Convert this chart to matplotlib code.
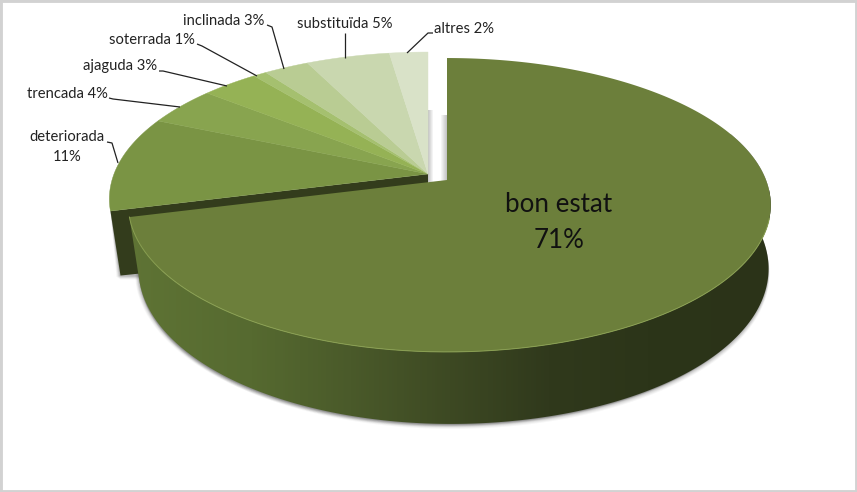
import numpy as np
import matplotlib
matplotlib.use("Agg")
import matplotlib.pyplot as plt
from matplotlib.colors import LinearSegmentedColormap
from matplotlib.patches import Polygon, Rectangle

labels = ["bon estat", "deteriorada", "trencada", "ajaguda", "soterrada", "inclinada", "substituïda", "altres"]
percent_labels = [71, 11, 4, 3, 1, 3, 5, 2]
values = [71, 10.5, 4.3, 3.4, 0.8, 2.7, 5.0, 2.3]
colors = ["#6C7F3B", "#7A9444", "#88A44F", "#95B255", "#A5C06F", "#B9CC93", "#C9D7AF", "#D9E2C8"]

plt.rcParams["font.family"] = ["Lato", "DejaVu Sans"]
W, H = 857, 492
fig = plt.figure(figsize=(W / 100, H / 100), dpi=100)
ax = fig.add_axes([0, 0, 1, 1])
ax.set_xlim(0, W)
ax.set_ylim(H, 0)
ax.axis("off")

A_R, A_L, B, K = 319.0, 314.0, 142.7, 0.17


def top(theta, r=1.0, c=(447.0, 180.0)):
    X, Y = r * np.sin(theta), r * np.cos(theta)
    w = 1 + K * Y
    return np.c_[c[0] + np.where(X > 0, A_R, A_L) * X / w, c[1] - B * Y / w]


def bottom(theta, r=1.0, c=(447.0, 180.0)):
    p = top(theta, r, c)
    Y = r * np.cos(theta)
    depth = 62 - 10 * Y
    return np.c_[c[0] + 4 + (p[:, 0] - c[0]) * 0.981, p[:, 1] + depth]


edges = np.radians(np.r_[0, np.cumsum(values)] * 3.6)
C_MAIN = (447.0, 180.0)
C_REST = (428.0, 174.0)

# frame
fig.add_artist(Rectangle((0, 0), 1, 1, transform=fig.transFigure, fill=False,
                         ec="#D2D2D2", lw=3.5))

# soft shadow beneath the wall
th = np.linspace(np.radians(70), edges[1], 200)
for off, a in [(5, .05), (4, .07), (3, .09), (2, .12), (1, .15)]:
    b = bottom(th, 1, C_MAIN)
    for shift in ([off * .2, off], [-off * .7, off * .6]):
        ax.add_patch(Polygon(np.r_[top(th, 1, C_MAIN), (b + shift)[::-1]], closed=True,
                             fc="#555555", ec="none", alpha=a, zorder=1))

# shadows in the gap between the two parts
for x0, y0, n in [(428, 110, 5), (441, 115, 6)]:
    for j in range(n):
        f = 1 - j / n if x0 == 428 else (j + 1) / n
        ax.add_patch(Rectangle((x0 + j, y0), 1, 182 - y0, fc="#808080", ec="none",
                               alpha=.45 * f, zorder=1.5))

# cut face of the detached part
t0 = edges[1]
pe = top(np.array([t0]), 1, C_REST)[0]
be = bottom(np.array([t0]), 1, C_REST)[0]
for off, a in [(4, .06), (3, .1), (2, .14), (1, .2)]:
    ax.add_patch(Polygon([pe, (be[0] - off, be[1] + off * .3), (be[0], be[1] + off),
                          (be[0] + 20, be[1] + off)],
                         closed=True, fc="#555555", ec="none", alpha=a, zorder=1.8))
ax.add_patch(Polygon([C_REST, pe, be, (C_REST[0], C_REST[1] + 70)], closed=True,
                     fc="#333C1C", ec="none", zorder=2))

# top of the detached slices
for i in range(1, len(values)):
    t = np.linspace(edges[i], edges[i + 1], max(int(values[i] * 6), 6))
    ax.add_patch(Polygon(np.r_[[C_REST], top(t, 1, C_REST)], closed=True,
                         fc=colors[i], ec=colors[i], lw=.3, zorder=3))

# wall of the main slice, shaded along the horizontal
stops_x = np.array([125, 250, 350, 450, 550, 650, 775])
stops = ["#5F7435", "#566A30", "#4A5A2A", "#3D4923", "#30391C", "#2C3519", "#2B3318"]
cmap = LinearSegmentedColormap.from_list(
    "wall", list(zip((stops_x - 125) / 650, stops)))
th = np.linspace(np.radians(70), edges[1], 500)
pt, pb = top(th, 1, C_MAIN), bottom(th, 1, C_MAIN)
wall = Polygon(np.r_[pt, pb[::-1]], closed=True, fc="none", ec="none",
               transform=ax.transData)
ax.add_patch(wall)
img = ax.imshow(np.linspace(0, 1, 650)[None, :], cmap=cmap, aspect="auto",
                extent=(125, 775, 440, 190), zorder=4, interpolation="bilinear")
img.set_clip_path(wall)
ax.set_xlim(0, W)
ax.set_ylim(H, 0)

# top of the main slice
t = np.linspace(edges[0], edges[1], 500)
rim = top(t, 1, C_MAIN)
ax.add_patch(Polygon(np.r_[[C_MAIN], rim], closed=True, fc=colors[0], ec="none", zorder=5))
front = top(np.linspace(np.radians(105), edges[1], 300), 1, C_MAIN)
ax.plot(front[:, 0], front[:, 1], color="#8AA052", lw=.7, zorder=6)

# leaders
leaders = [
    [(107, 142), (112, 143), (118, 163)],
    [(109, 98), (113, 99), (180, 107)],
    [(159, 71), (163, 71), (227, 86)],
    [(197, 44), (202, 46), (257, 76)],
    [(267, 25), (272, 27), (284, 69)],
    [(345, 33), (345, 58)],
    [(433, 33), (428, 33), (407, 53)],
]
for pts in leaders:
    xs, ys = zip(*pts)
    ax.plot(xs, ys, color="#222222", lw=.9, zorder=7, solid_capstyle="butt")

# labels
text_pos = [(559, 222), (67, 147), (67, 94), (120, 66), (152, 40), (224, 21), (345, 24), (464, 29)]
for i, (lab, v, pos) in enumerate(zip(labels, percent_labels, text_pos)):
    if i == 0:
        ax.text(*pos, f"{lab}\n{v}%", ha="center", va="center", fontsize=18.7,
                color="#111111", zorder=8, linespacing=1.55)
    elif lab == "deteriorada":
        ax.text(*pos, f"{lab}\n{v}%", ha="center", va="center", fontsize=10.6,
                color="#222222", zorder=8, linespacing=1.55)
    else:
        ax.text(*pos, f"{lab} {v}%", ha="center", va="center", fontsize=10.6,
                color="#222222", zorder=8)

fig.savefig("out.png", dpi=100)
